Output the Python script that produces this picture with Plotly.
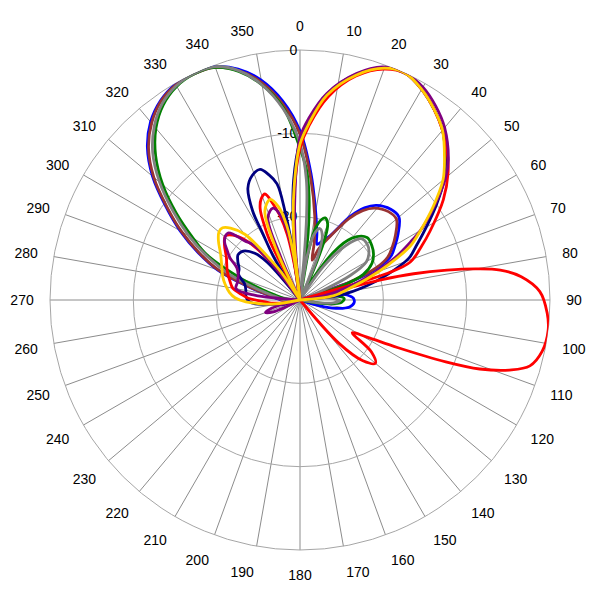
import plotly.graph_objects as go

# ---- data (dB values, -30 = centre floor) ----
blue_theta = [0, 5, 10, 14, 17, 20, 25, 31, 35, 39, 45, 50, 56, 60, 64, 67, 70, 73, 76, 80, 84, 88, 93, 98, 104, 108, 112, 180, 262, 268, 275, 280, 285, 290, 295, 300, 305, 310, 315, 320, 325, 330, 335, 340, 345, 350, 355, 360]
blue_db = [-9.7, -14.8, -19.2, -21.6, -23, -22.6, -21.5, -18.3, -16.5, -15.4, -14.6, -14.5, -15.8, -16.8, -17.8, -19.5, -23, -30, -28, -25.5, -24.3, -23.6, -23.5, -24, -26, -28.5, -30, -30, -30, -28, -27, -25.7, -23.2, -19.5, -16.5, -13.4, -10.3, -6.9, -4.1, -2.1, -0.8, -0.1, 0, -0.2, -1.3, -3.2, -6, -9.7]

brown_theta = [0, 5, 10, 14, 17, 20, 25, 31, 35, 39, 45, 50, 56, 60, 64, 67, 70, 73, 180, 262, 268, 275, 280, 285, 290, 295, 300, 305, 310, 315, 320, 325, 330, 335, 340, 345, 350, 355, 360]
brown_db = [-10.1, -15.3, -19.8, -23, -25, -23.5, -21.7, -18.6, -16.9, -15.8, -15, -14.9, -16.2, -17.2, -18.3, -20, -23.5, -30, -30, -30, -28.2, -27.2, -25.9, -23.4, -19.7, -16.7, -13.6, -10.5, -7.1, -4.3, -2.3, -0.9, -0.2, -0.05, -0.3, -1.5, -3.5, -6.4, -10.1]

green_theta = [0, 3, 5, 7, 8.5, 10, 12, 15, 17, 20, 22, 25, 27, 30, 35, 40, 47, 53, 58, 63, 68, 72, 75, 80, 84, 88, 93, 98, 102, 180, 262, 270, 276, 281, 285, 290, 296, 300, 305, 310, 315, 320, 325, 330, 335, 340, 345, 350, 355, 360]
green_db = [-11.8, -14.5, -17.5, -22, -30, -24, -21.3, -20, -19.7, -20.3, -22, -27, -30, -28, -23, -20.3, -19, -19.2, -19.6, -20.3, -21.8, -25, -30, -28, -25.5, -24.7, -25, -27, -30, -30, -30, -29, -28, -27, -25.5, -22.5, -17.5, -15.2, -11.9, -8.5, -5.5, -3.1, -1.4, -0.4, -0.05, -0.3, -1.6, -3.8, -6.8, -11.8]

gray_theta = [0, 3, 4.5, 5.5, 6.5, 9, 12, 15.5, 19, 22, 25, 30, 35, 40, 45, 50, 55, 60, 64, 67, 70, 80, 84, 88, 91, 95, 99, 102, 180, 262, 268, 275, 280, 285, 290, 295, 300, 305, 310, 315, 320, 325, 330, 335, 340, 345, 350, 355, 360]
gray_db = [-11.2, -15.5, -20, -25, -30, -25, -22, -21.1, -21.8, -24, -30, -30, -25, -21.5, -19.6, -19.5, -19.9, -20.8, -23.3, -27, -30, -30, -27.5, -25.8, -25.2, -26, -28, -30, -30, -30, -28.5, -27.5, -26.5, -24.5, -21, -17.8, -14.6, -11.4, -8, -5, -2.8, -1.2, -0.3, 0, -0.2, -1.5, -3.8, -7, -11.2]

navy_theta = [0, 3, 8, 14, 20, 25, 30, 35, 40, 46, 50, 55, 60, 65, 69, 74, 78, 83, 88, 180, 250, 255, 262, 265, 269, 274, 280, 286, 292.7, 297, 302, 306, 310.7, 316, 319, 322, 327, 328.5, 330.7, 332, 335, 339, 343, 346, 348.8, 350.4, 351.5, 353, 354.5, 357, 360]
navy_db = [-11, -8.3, -4.8, -2.1, -0.4, 0, -0.8, -2, -3.4, -5.7, -7.4, -10, -12.5, -14.6, -16, -19.2, -21.8, -25, -30, -30, -30, -28, -26.4, -24.6, -23.8, -23.5, -23.4, -23.1, -22, -21.8, -21.2, -20.8, -21, -22.2, -24, -30, -30, -24, -20.9, -17.9, -15.2, -14, -13.6, -14.5, -15.8, -19.2, -23, -30, -22, -15.5, -11]

red_theta = [0, 3, 8, 14, 20, 25, 30, 35, 40, 45, 49.4, 55, 62, 66, 71, 73, 74.5, 76, 77, 78.5, 80, 81.5, 84, 88, 93, 97, 102, 106, 108.5, 111, 113, 116, 119, 122, 126, 130, 134, 138, 142, 180, 258, 260, 264, 268, 272, 276, 280, 285, 291.7, 300, 306, 310.5, 314, 318, 322, 325, 331, 333, 334.5, 336.5, 339, 341.7, 344.3, 346.5, 349, 351, 352.5, 354.5, 357, 360]
red_db = [-11.8, -9, -5.3, -2.3, -0.5, 0, -0.8, -2, -3.4, -5, -6.6, -9, -12.3, -14, -16, -19, -30, -20, -16, -12, -8.5, -5.7, -3.3, -1.2, -0.3, 0, -0.3, -1.3, -3.5, -6.9, -11, -17, -20.8, -22.6, -19.4, -18.2, -19.5, -23, -30, -30, -30, -28, -26.5, -25.5, -23.8, -22.8, -21.8, -21.3, -20.6, -19.8, -18.8, -18.2, -18.8, -20.5, -24, -30, -30, -22, -20, -18, -17, -16.6, -18, -19.5, -22, -26, -30, -23, -17, -11.8]

purple_theta = [0, 3, 7.4, 14, 19.6, 25, 30, 35, 40, 46.6, 50, 55, 60, 62, 66, 70, 75, 80, 85, 180, 242, 246, 250, 254, 258, 272, 276, 280, 286, 292, 297, 301, 304, 308, 313, 317, 320, 323, 326, 334, 336, 338.7, 343.6, 347, 350, 352, 353, 355, 357, 360]
purple_db = [-10.5, -8, -5, -2, -0.3, 0, -0.5, -1.6, -3, -5.5, -7.2, -10.3, -13.3, -14.8, -17.5, -20.5, -24, -27, -30, -30, -30, -26.5, -25.6, -26.5, -30, -30, -24.5, -22.2, -22.2, -22, -21.5, -20.2, -19.5, -18.5, -18.2, -20.3, -21.5, -25, -30, -30, -24, -19.4, -18.5, -19.5, -22, -26, -30, -24, -18, -10.5]

gold_theta = [0, 3, 7.5, 14, 20, 25, 30, 35, 40, 46, 50, 55, 60, 64, 68, 72.6, 77, 83, 88, 180, 258, 261, 264, 266, 268, 272, 276, 282, 287, 292, 300, 306, 310, 313, 316, 320, 324, 326, 328, 333, 335, 338.5, 343.5, 347, 350, 352, 353.3, 354.5, 357, 360]
gold_db = [-11.3, -8.7, -5.2, -2.2, -0.4, 0, -0.8, -2, -3.4, -5.9, -7.6, -10.5, -13.3, -15.3, -18.4, -21.6, -24, -26, -30, -30, -30, -27, -25.5, -24.6, -23.5, -22.2, -21.5, -20.8, -20.3, -19.9, -19, -17.9, -17.3, -17.3, -18, -19.7, -24.2, -26, -30, -30, -23, -18.5, -17.4, -18.5, -21, -25, -30, -22, -16.5, -11.3]

angle_ticks = list(range(0, 360, 10))
angle_labels = [str(a) for a in angle_ticks]
radial_ticks = [-20, -10, 0]
radial_labels = ["-20", "-10", "0"]

series = [
    (blue_theta, blue_db, "#0000FF"),
    (brown_theta, brown_db, "#993333"),
    (green_theta, green_db, "#008000"),
    (gray_theta, gray_db, "#808080"),
    (navy_theta, navy_db, "#000080"),
    (red_theta, red_db, "#FF0000"),
    (purple_theta, purple_db, "#800080"),
    (gold_theta, gold_db, "#FFCC00"),
]

fig = go.Figure()
for th, r, col in series:
    fig.add_trace(go.Scatterpolar(
        r=r, theta=th, mode="lines",
        line=dict(color=col, width=2.8, shape="spline", smoothing=1.0),
        showlegend=False, hoverinfo="skip"))

font_family = "Liberation Sans, Arial, sans-serif"
fig.update_layout(
    width=600, height=600,
    margin=dict(l=42, r=58, t=42, b=58),
    paper_bgcolor="white",
    font=dict(family=font_family, size=14, color="#000000"),
    polar=dict(
        bgcolor="white",
        domain=dict(x=[0, 1], y=[0, 1]),
        angularaxis=dict(
            rotation=90, direction="clockwise",
            tickmode="array", tickvals=angle_ticks, ticktext=angle_labels,
            showgrid=True, gridcolor="#8c8c8c", gridwidth=1,
            showline=True, linecolor="#a6a6a6", linewidth=1,
            ticks="outside", ticklen=13, tickcolor="rgba(0,0,0,0)",
            tickfont=dict(family=font_family, size=14, color="#000000"),
            layer="below traces",
        ),
        radialaxis=dict(
            range=[-30, 0], tickmode="array", tickvals=radial_ticks, ticktext=radial_labels,
            angle=90, tickangle=90, side="counterclockwise",
            showline=False, ticks="",
            showgrid=True, gridcolor="#a6a6a6", gridwidth=1,
            tickfont=dict(family=font_family, size=14, color="#000000"),
            layer="below traces",
        ),
    ),
)

fig.write_html("out.html")
